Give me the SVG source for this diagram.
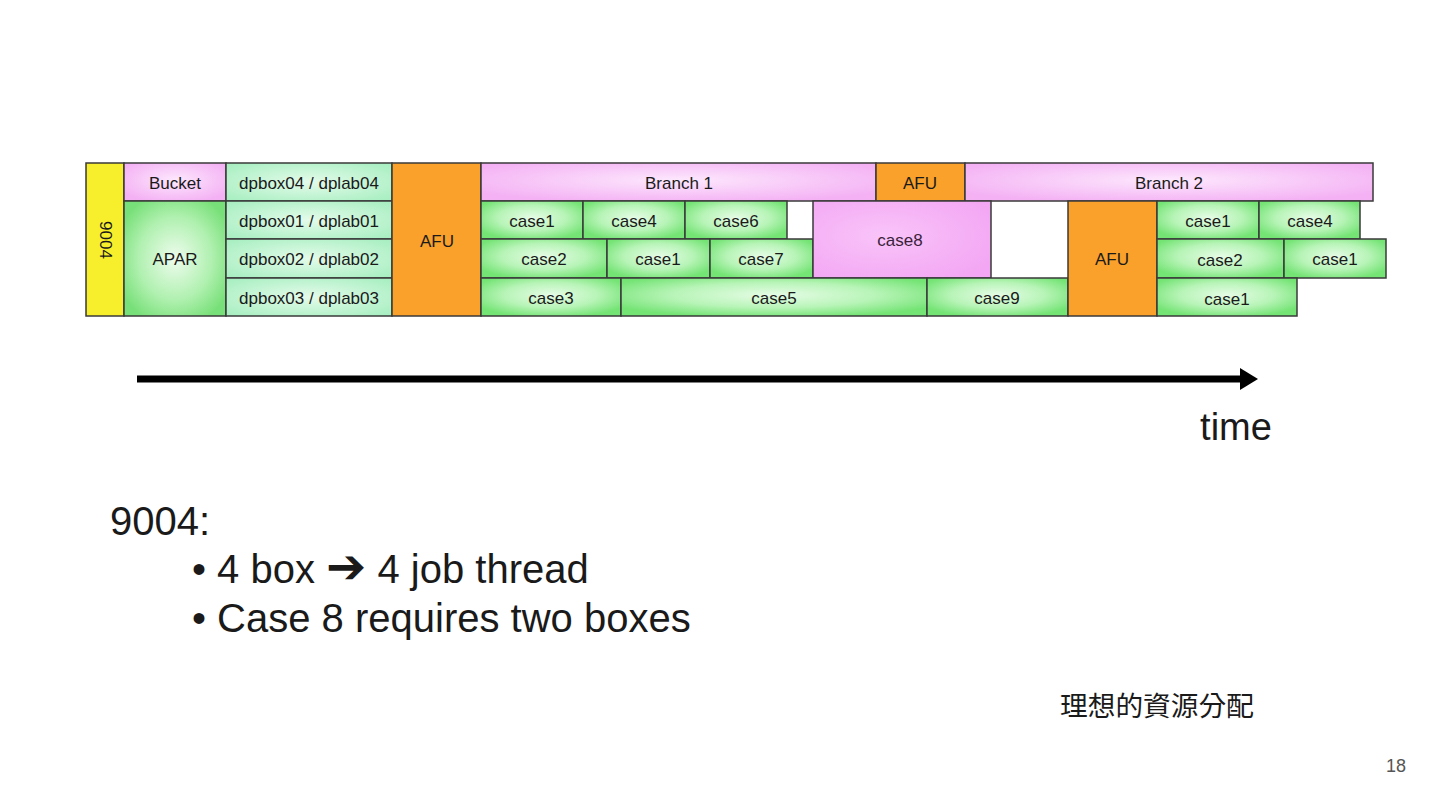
<svg xmlns="http://www.w3.org/2000/svg" width="1440" height="810" viewBox="0 0 1440 810">
<defs>
<radialGradient id="gGreen" cx="0.5" cy="0.45" r="0.6">
<stop offset="0" stop-color="#e6fce6"/>
<stop offset="0.55" stop-color="#b8f4b8"/>
<stop offset="1" stop-color="#74e474"/>
</radialGradient>
<radialGradient id="gMint" cx="0.5" cy="0.5" r="0.65">
<stop offset="0" stop-color="#e4fbea"/>
<stop offset="1" stop-color="#a9efc2"/>
</radialGradient>
<radialGradient id="gApar" cx="0.5" cy="0.5" r="0.6">
<stop offset="0" stop-color="#eefcee"/>
<stop offset="0.6" stop-color="#b0f0b0"/>
<stop offset="1" stop-color="#78e078"/>
</radialGradient>
<radialGradient id="gPink" cx="0.5" cy="0.45" r="0.6">
<stop offset="0" stop-color="#fde8fd"/>
<stop offset="1" stop-color="#f4b2f4"/>
</radialGradient>
<radialGradient id="gPink2" cx="0.4" cy="0.45" r="0.7">
<stop offset="0" stop-color="#f9c4f9"/>
<stop offset="1" stop-color="#f3a6f3"/>
</radialGradient>
<marker id="ah" markerUnits="userSpaceOnUse" markerWidth="20" markerHeight="24" refX="0" refY="11" orient="auto">
<path d="M0,0 L18,11 L0,22 z" fill="#000"/>
</marker>
</defs>
<style>
rect { stroke: #3a3a3a; stroke-width: 1.5; }
.green { fill: url(#gGreen); }
.mint { fill: url(#gMint); }
.pink { fill: url(#gPink); }
.orange { fill: #f9a12a; }
.yellow { fill: #f8ef2c; }
text { font-family: "Liberation Sans", Arial, sans-serif; fill: #1a1a1a; }
.lbl { font-size: 17px; text-anchor: middle; dominant-baseline: central; }
.big { font-size: 40px; }
.arr { font-family: "DejaVu Sans", sans-serif; font-size: 48px; }
</style>
<rect x="0" y="0" width="1440" height="810" fill="#fff" style="stroke:none"/>

<g id="n9004"><rect class="yellow" x="86" y="163" width="38" height="153"/><text class="lbl" transform="translate(105,240) rotate(90)">9004</text></g>
<g id="bucket"><rect class="pink" x="124" y="163" width="102" height="38"/><text class="lbl" x="175" y="183">Bucket</text></g>
<g id="apar"><rect fill="url(#gApar)" x="124" y="201" width="102" height="115"/><text class="lbl" x="175" y="259">APAR</text></g>
<g id="dpbox04"><rect class="mint" x="226" y="163" width="166" height="38"/><text class="lbl" x="309" y="183">dpbox04 / dplab04</text></g>
<g id="dpbox01"><rect class="mint" x="226" y="201" width="166" height="38"/><text class="lbl" x="309" y="221">dpbox01 / dplab01</text></g>
<g id="dpbox02"><rect class="mint" x="226" y="239" width="166" height="39"/><text class="lbl" x="309" y="259">dpbox02 / dplab02</text></g>
<g id="dpbox03"><rect class="mint" x="226" y="278" width="166" height="38"/><text class="lbl" x="309" y="298">dpbox03 / dplab03</text></g>
<g id="afu1"><rect class="orange" x="392" y="163" width="89" height="153"/><text class="lbl" x="437" y="241">AFU</text></g>
<g id="branch1"><rect class="pink" x="481" y="163" width="395" height="38"/><text class="lbl" x="679" y="183">Branch 1</text></g>
<g id="afu2"><rect class="orange" x="876" y="163" width="89" height="38"/><text class="lbl" x="920" y="183">AFU</text></g>
<g id="branch2"><rect class="pink" x="965" y="163" width="408" height="38"/><text class="lbl" x="1169" y="183">Branch 2</text></g>

<g id="b1r2c1"><rect class="green" x="481" y="201" width="102" height="38"/><text class="lbl" x="532" y="221">case1</text></g>
<g id="b1r2c4"><rect class="green" x="583" y="201" width="102" height="38"/><text class="lbl" x="634" y="221">case4</text></g>
<g id="b1r2c6"><rect class="green" x="685" y="201" width="102" height="38"/><text class="lbl" x="736" y="221">case6</text></g>
<g id="b1r3c2"><rect class="green" x="481" y="239" width="126" height="39"/><text class="lbl" x="544" y="259">case2</text></g>
<g id="b1r3c1"><rect class="green" x="607" y="239" width="103" height="39"/><text class="lbl" x="658" y="259">case1</text></g>
<g id="b1r3c7"><rect class="green" x="710" y="239" width="103" height="39"/><text class="lbl" x="761" y="259">case7</text></g>
<g id="case8"><rect fill="url(#gPink2)" x="813" y="201" width="178" height="77"/><text class="lbl" x="900" y="240" style="fill:#3a1f3a">case8</text></g>
<g id="b1r4c3"><rect class="green" x="481" y="278" width="140" height="38"/><text class="lbl" x="551" y="298">case3</text></g>
<g id="b1r4c5"><rect class="green" x="621" y="278" width="306" height="38"/><text class="lbl" x="774" y="298">case5</text></g>
<g id="b1r4c9"><rect class="green" x="927" y="278" width="141" height="38"/><text class="lbl" x="997" y="298">case9</text></g>

<g id="afu3"><rect class="orange" x="1068" y="201" width="89" height="115"/><text class="lbl" x="1112" y="259">AFU</text></g>
<g id="b2r2c1"><rect class="green" x="1157" y="201" width="102" height="38"/><text class="lbl" x="1208" y="221">case1</text></g>
<g id="b2r2c4"><rect class="green" x="1259" y="201" width="101" height="38"/><text class="lbl" x="1310" y="221">case4</text></g>
<g id="b2r3c2"><rect class="green" x="1157" y="239" width="127" height="39"/><text class="lbl" x="1220" y="260">case2</text></g>
<g id="b2r3c1"><rect class="green" x="1284" y="239" width="102" height="39"/><text class="lbl" x="1335" y="259">case1</text></g>
<g id="b2r4c1"><rect class="green" x="1157" y="278" width="140" height="38"/><text class="lbl" x="1227" y="299">case1</text></g>

<g id="connectors">
<line x1="137" y1="379" x2="1240" y2="379" stroke="#000" stroke-width="7" marker-end="url(#ah)"/>
</g>
<g id="timeLabel"><text x="1236" y="440" style="font-size:38px;text-anchor:middle">time</text></g>

<g id="notes">
<text class="big" x="192" y="535" dx="-82">9004:</text>
<text class="big" x="192" y="583">• 4 box <tspan class="arr">➔</tspan> 4 job thread</text>
<text class="big" x="192" y="632">• Case 8 requires two boxes</text>
</g>
<g id="caption"><text x="1060" y="716" style="font-family:'Noto Sans CJK TC','Noto Sans CJK SC',sans-serif;font-size:27.7px">理想的資源分配</text></g>
<g id="pageNum"><text x="1406" y="772" style="font-size:18px;text-anchor:end;fill:#555">18</text></g>
</svg>
